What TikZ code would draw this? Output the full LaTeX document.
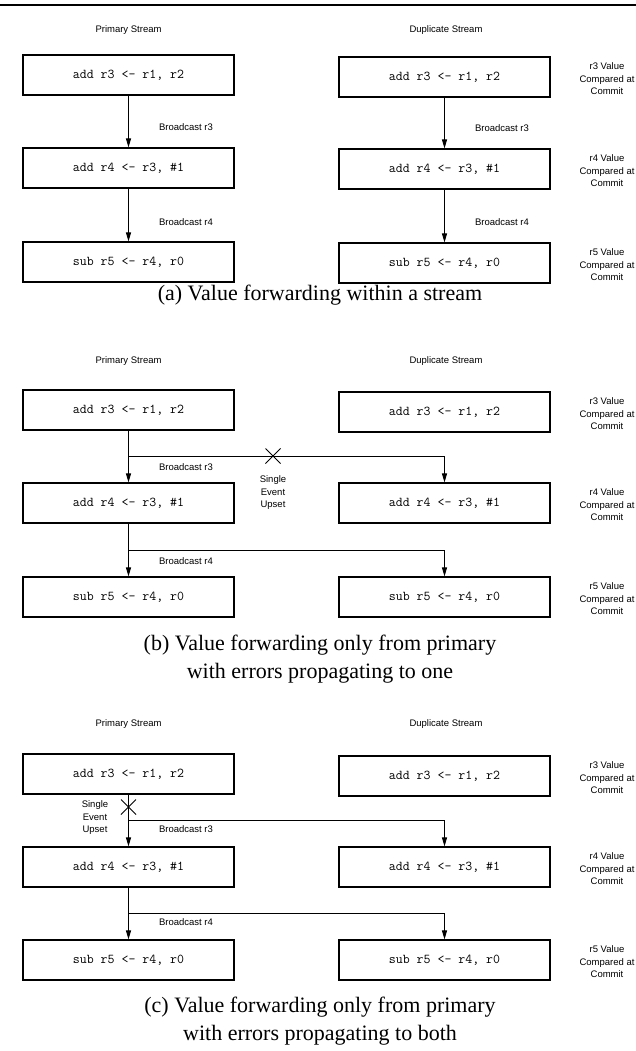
\documentclass[tikz,border=0pt]{standalone}
\usepackage{fontspec}
\setmainfont{Liberation Serif}
\setsansfont{Liberation Sans}
\usetikzlibrary{arrows.meta,shapes.misc}

\tikzset{
  instr/.style={draw, line width=1.1pt, minimum width=211pt, minimum height=40pt,
    inner sep=0pt, font=\fontsize{13.5}{15}\selectfont\ttfamily},
  lbl/.style={font=\fontsize{9.5}{12.5}\selectfont\sffamily, align=center},
  flow/.style={-{Triangle[length=9pt,width=5pt]}, line width=1pt},
  capt/.style={font=\fontsize{22}{28}\selectfont, align=center},
  seu/.style={cross out, draw, line width=1pt, minimum size=14pt, inner sep=0pt},
}

\begin{document}
\begin{tikzpicture}[x=1pt,y=-1pt]
\useasboundingbox (0,0) rectangle (636,1051);

% Rule on top
\draw[line width=2pt] (0,5) -- (636,5);

%%%%% (a) forwarding within a stream
\node[lbl] (hpA) at (128.5,30) {Primary Stream};
\node[lbl] (hdA) at (446,30) {Duplicate Stream};

\node[instr] (pA1) at (128.5,75)  {add r3 <- r1, r2};
\node[instr] (pA2) at (128.5,168) {add r4 <- r3, \#1};
\node[instr] (pA3) at (128.5,262) {sub r5 <- r4, r0};

\node[instr] (dA1) at (444.5,77)  {add r3 <- r1, r2};
\node[instr] (dA2) at (444.5,169) {add r4 <- r3, \#1};
\node[instr] (dA3) at (444.5,263) {sub r5 <- r4, r0};

\draw[flow] (pA1) -- (pA2);
\draw[flow] (pA2) -- (pA3);
\draw[flow] (dA1) -- (dA2);
\draw[flow] (dA2) -- (dA3);

\node[lbl] (bA1) at (186,127) {Broadcast r3};
\node[lbl] (bA2) at (186,222) {Broadcast r4};
\node[lbl] (bA3) at (502,128) {Broadcast r3};
\node[lbl] (bA4) at (502,222) {Broadcast r4};

\node[lbl] (cA1) at (607,79)  {r3 Value\\Compared at\\Commit};
\node[lbl] (cA2) at (607,171) {r4 Value\\Compared at\\Commit};
\node[lbl] (cA3) at (607,265) {r5 Value\\Compared at\\Commit};

\node[capt] (capA) at (320,295) {(a) Value forwarding within a stream};

%%%%% (b) forwarding from primary, error hits one
\node[lbl] (hpB) at (128.5,361) {Primary Stream};
\node[lbl] (hdB) at (446,361) {Duplicate Stream};

\node[instr] (pB1) at (128.5,410) {add r3 <- r1, r2};
\node[instr] (pB2) at (128.5,503) {add r4 <- r3, \#1};
\node[instr] (pB3) at (128.5,597) {sub r5 <- r4, r0};

\node[instr] (dB1) at (444.5,412) {add r3 <- r1, r2};
\node[instr] (dB2) at (444.5,503) {add r4 <- r3, \#1};
\node[instr] (dB3) at (444.5,597) {sub r5 <- r4, r0};

\coordinate (jB1) at (128.5,456);
\coordinate (jB2) at (128.5,550);
\draw[flow] (pB1) -- (pB2);
\draw[flow] (jB1) -| (dB2);
\draw[flow] (pB2) -- (pB3);
\draw[flow] (jB2) -| (dB3);

\node[seu] (xB) at (273,456) {};
\node[lbl] (sB) at (273,493) {Single\\Event\\Upset};

\node[lbl] (bB1) at (186,467) {Broadcast r3};
\node[lbl] (bB2) at (186,561) {Broadcast r4};

\node[lbl] (cB1) at (607,414) {r3 Value\\Compared at\\Commit};
\node[lbl] (cB2) at (607,505) {r4 Value\\Compared at\\Commit};
\node[lbl] (cB3) at (607,599) {r5 Value\\Compared at\\Commit};

\node[capt] (capB) at (320,659) {(b) Value forwarding only from primary\\with errors propagating to one};

%%%%% (c) forwarding from primary, error hits both
\node[lbl] (hpC) at (128.5,724) {Primary Stream};
\node[lbl] (hdC) at (446,724) {Duplicate Stream};

\node[instr] (pC1) at (128.5,774) {add r3 <- r1, r2};
\node[instr] (pC2) at (128.5,867) {add r4 <- r3, \#1};
\node[instr] (pC3) at (128.5,960) {sub r5 <- r4, r0};

\node[instr] (dC1) at (444.5,776) {add r3 <- r1, r2};
\node[instr] (dC2) at (444.5,867) {add r4 <- r3, \#1};
\node[instr] (dC3) at (444.5,960) {sub r5 <- r4, r0};

\coordinate (jC1) at (128.5,820);
\coordinate (jC2) at (128.5,913);
\draw[flow] (pC1) -- (pC2);
\draw[flow] (jC1) -| (dC2);
\draw[flow] (pC2) -- (pC3);
\draw[flow] (jC2) -| (dC3);

\node[seu] (xC) at (128.5,807) {};
\node[lbl] (sC) at (95,818) {Single\\Event\\Upset};

\node[lbl] (bC1) at (186,829) {Broadcast r3};
\node[lbl] (bC2) at (186,922) {Broadcast r4};

\node[lbl] (cC1) at (607,778) {r3 Value\\Compared at\\Commit};
\node[lbl] (cC2) at (607,869) {r4 Value\\Compared at\\Commit};
\node[lbl] (cC3) at (607,962) {r5 Value\\Compared at\\Commit};

\node[capt] (capC) at (320,1021) {(c) Value forwarding only from primary\\with errors propagating to both};

\end{tikzpicture}
\end{document}
